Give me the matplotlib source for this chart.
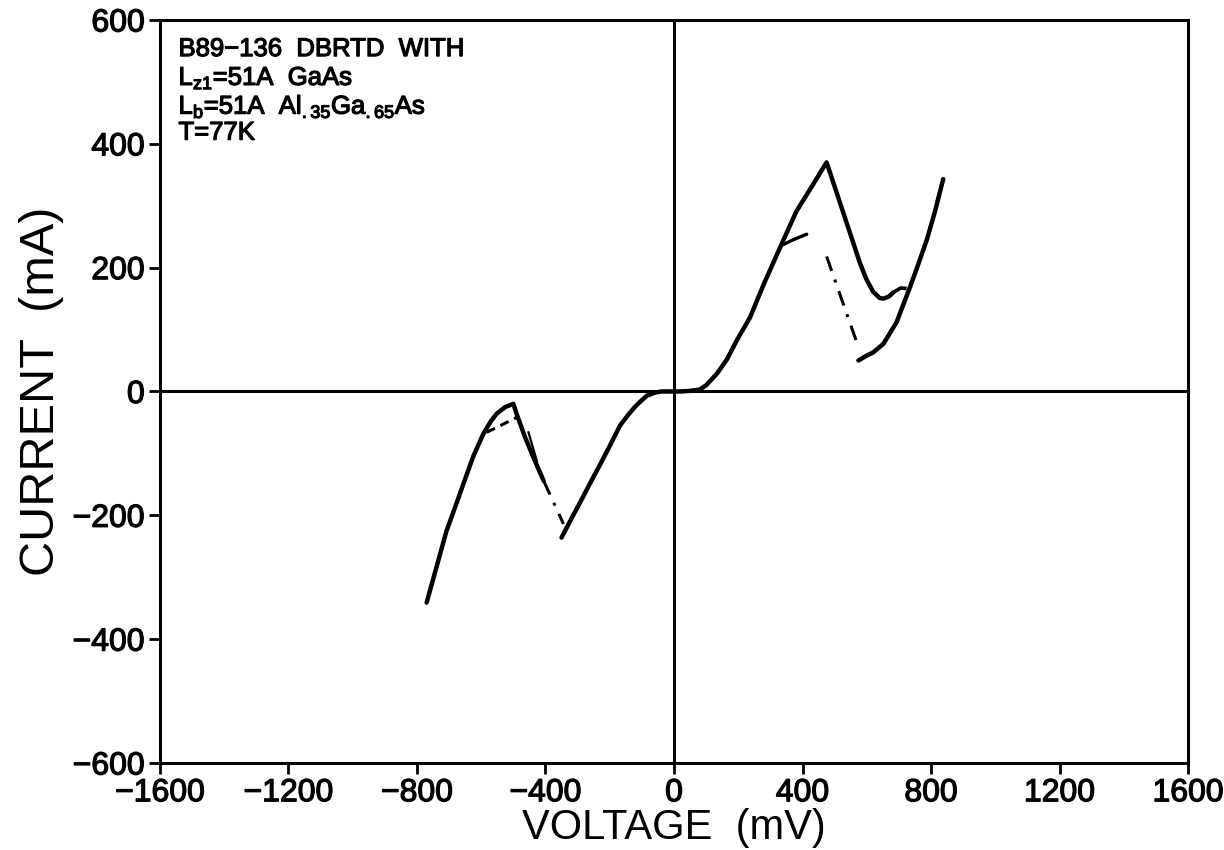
import matplotlib
matplotlib.use("Agg")
import matplotlib.pyplot as plt
import matplotlib.patheffects as pe

plt.rcParams['font.family'] = ['Liberation Sans', 'DejaVu Sans']
plt.rcParams['mathtext.fontset'] = 'custom'
plt.rcParams['mathtext.rm'] = 'Liberation Sans'

# Negative-bias branch up to the valley (solid)
v_neg_peak = [-770, -740, -708, -680, -656, -625, -594, -570, -552, -525, -500, -490, -465, -438, -406]
i_neg_peak = [-341, -285, -225, -185, -150, -105, -69, -48, -36, -25, -20, -36, -72, -106, -144]

# Main sweep through the origin to the positive valley (solid)
v_main = [-350, -320, -290, -260, -230, -200, -168, -140, -120, -100, -85, -60, -40, -20, 0,
          20, 50, 80, 100, 134, 165, 196, 237, 280, 335, 380, 430, 475,
          500, 530, 560, 579, 600, 620, 640, 652, 668, 683]
i_main = [-236, -206, -177, -147, -118, -88, -55, -36, -24, -14, -7, -2, 0, 0, 0,
          0, 1, 3, 10, 29, 52, 83, 120, 174, 238, 290, 332, 370,
          331, 284, 237, 207, 180, 161, 151, 150, 153, 160]

# Valley continuation (dashed)
v_valley_ext = [683, 705, 735]
i_valley_ext = [160, 167, 166]

# Lower positive branch (solid)
v_pos_low = [574, 600, 620, 652, 693, 735, 760, 787, 812, 838]
i_pos_low = [50, 58, 63, 77, 112, 169, 205, 245, 290, 343]

# Switching transitions (dash-dot)
v_jump_pos = [475, 574]
i_jump_pos = [218, 72]
v_jump_neg = [-406, -344]
i_jump_neg = [-144, -214]

# Secondary traces near the peaks
v_side_pos = [335, 371, 413]
i_side_pos = [236, 245, 254]
v_side_neg = [-583, -540, -490]
i_side_neg = [-66, -55, -42]
v_side_neg2 = [-453, -427]
i_side_neg2 = [-66, -112]

x_ticks = [-1600, -1200, -800, -400, 0, 400, 800, 1200, 1600]
y_ticks = [-600, -400, -200, 0, 200, 400, 600]

heavy = [pe.withStroke(linewidth=0.9, foreground='black')]

fig = plt.figure(figsize=(12.24, 8.5), dpi=100)
ax = fig.add_axes([0.1307, 0.1024, 0.8399, 0.8741])

ax.axhline(0, color='black', lw=2.2, zorder=1)
ax.axvline(0, color='black', lw=2.2, zorder=1)

lw = 3.2
ax.plot(v_neg_peak, i_neg_peak, color='black', lw=lw, solid_capstyle='round', solid_joinstyle='round')
ax.plot(v_main, i_main, color='black', lw=lw, solid_capstyle='round', solid_joinstyle='round')
ax.plot(v_valley_ext, i_valley_ext, color='black', lw=2.6, linestyle=(0, (4, 2)))
ax.plot(v_pos_low, i_pos_low, color='black', lw=lw, solid_capstyle='round', solid_joinstyle='round')
ax.plot(v_jump_pos, i_jump_pos, color='black', lw=2.2, linestyle=(0, (5, 3, 1, 3)))
ax.plot(v_jump_neg, i_jump_neg, color='black', lw=2.2, linestyle=(0, (5, 3, 1, 3)))
ax.plot(v_side_pos, i_side_pos, color='black', lw=2.4, solid_capstyle='round')
ax.plot(v_side_neg, i_side_neg, color='black', lw=2.2, linestyle=(0, (3, 2)))
ax.plot(v_side_neg2, i_side_neg2, color='black', lw=1.6)

ax.set_xlim(-1600, 1600)
ax.set_ylim(-600, 600)
ax.set_xticks(x_ticks)
ax.set_yticks(y_ticks)
ax.set_xticklabels([str(t).replace('-', '\u2212') for t in x_ticks], fontsize=23)
ax.set_yticklabels([str(t).replace('-', '\u2212') for t in y_ticks], fontsize=23)
for lab in ax.get_xticklabels() + ax.get_yticklabels():
    lab.set_path_effects(heavy)
ax.tick_params(direction='out', length=8, width=2, pad=3)
for s in ax.spines.values():
    s.set_linewidth(2.2)

ax.set_xlabel('VOLTAGE  (mV)', fontsize=30, labelpad=0)
ax.set_ylabel('CURRENT  (mA)', fontsize=35, labelpad=6)

lines = [
    'B89\u2212136  DBRTD  WITH',
    r'L$_{\mathrm{z1}}$=51A  GaAs',
    r'L$_{\mathrm{b}}$=51A  Al$_{\mathrm{.35}}$Ga$_{\mathrm{.65}}$As',
    'T=77K',
]
for k, s in enumerate(lines):
    ax.text(0.018, 0.977 - k * 0.0375, s, transform=ax.transAxes, fontsize=18.5,
            va='top', ha='left', path_effects=heavy)

fig.savefig('out.png', dpi=100)
